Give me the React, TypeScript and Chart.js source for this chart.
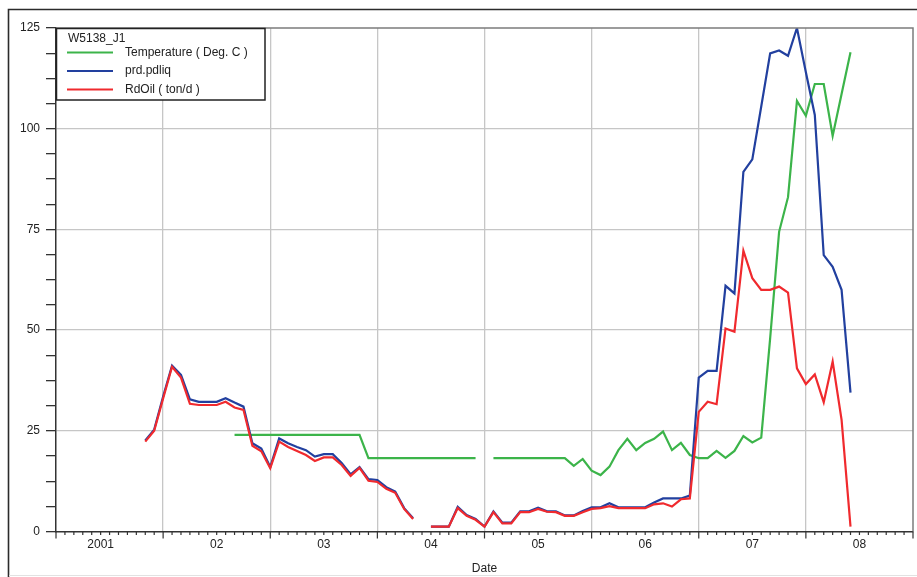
import React, { useEffect, useRef } from "react";
import { Chart, registerables } from "chart.js";

Chart.register(...registerables);

// Monthly dates of the plotted samples
const dates: string[] = [
  "2001-11", "2001-12",
  "2002-01", "2002-02", "2002-03", "2002-04", "2002-05", "2002-06", "2002-07", "2002-08", "2002-09", "2002-10", "2002-11", "2002-12",
  "2003-01", "2003-02", "2003-03", "2003-04", "2003-05", "2003-06", "2003-07", "2003-08", "2003-09", "2003-10", "2003-11", "2003-12",
  "2004-01", "2004-02", "2004-03", "2004-04", "2004-05", "2004-06", "2004-07", "2004-08", "2004-09", "2004-10", "2004-11", "2004-12",
  "2005-01", "2005-02", "2005-03", "2005-04", "2005-05", "2005-06", "2005-07", "2005-08", "2005-09", "2005-10", "2005-11", "2005-12",
  "2006-01", "2006-02", "2006-03", "2006-04", "2006-05", "2006-06", "2006-07", "2006-08", "2006-09", "2006-10", "2006-11", "2006-12",
  "2007-01", "2007-02", "2007-03", "2007-04", "2007-05", "2007-06", "2007-07", "2007-08", "2007-09", "2007-10", "2007-11", "2007-12",
  "2008-01", "2008-02", "2008-03", "2008-04", "2008-05", "2008-06",
];

const temperature: (number | null)[] = [
  null, null,
  null, null, null, null, null, null, null, null, 24.0, 24.0, 24.0, 24.0,
  24.0, 24.0, 24.0, 24.0, 24.0, 24.0, 24.0, 24.0, 24.0, 24.0, 24.0, 18.2,
  18.2, 18.2, 18.2, 18.2, 18.2, 18.2, 18.2, 18.2, 18.2, 18.2, 18.2, 18.2,
  null, 18.2, 18.2, 18.2, 18.2, 18.2, 18.2, 18.2, 18.2, 18.2, 16.3, 18.0,
  15.1, 14.0, 16.1, 20.2, 23.0, 20.2, 22.0, 23.0, 24.8, 20.2, 22.0, 19.0,
  18.2, 18.2, 20.0, 18.3, 20.0, 23.7, 22.1, 23.3, 48.0, 74.4, 83.0, 106.9,
  103.2, 111.1, 111.1, 98.2, 108.6, 119.0,
];

const prdPdliq: (number | null)[] = [
  22.6, 25.3,
  33.5, 41.2, 38.9, 32.8, 32.2, 32.2, 32.2, 33.1, 32.0, 31.0, 21.9, 20.6,
  16.0, 23.1, 21.9, 21.0, 20.2, 18.6, 19.2, 19.2, 17.0, 14.2, 16.0, 13.0,
  12.8, 11.0, 9.9, 5.8, 3.3, null, 1.2, 1.2, 1.2, 6.1, 4.1, 3.1,
  1.2, 5.0, 2.2, 2.2, 5.0, 5.0, 5.9, 5.0, 5.0, 4.0, 4.0, 5.1,
  6.0, 6.0, 7.0, 6.0, 6.0, 6.0, 6.0, 7.2, 8.2, 8.2, 8.2, 8.9,
  38.2, 39.9, 39.9, 61.0, 59.1, 89.3, 92.4, 105.5, 118.7, 119.4, 118.1, 125.0,
  114.0, 103.4, 68.6, 65.7, 60.0, 34.5,
];

const rdOil: (number | null)[] = [
  22.3, 25.0,
  33.0, 40.9, 38.2, 31.7, 31.4, 31.4, 31.4, 32.2, 30.8, 30.2, 21.3, 19.9,
  15.7, 22.3, 21.0, 20.0, 19.0, 17.5, 18.4, 18.4, 16.5, 13.8, 15.8, 12.6,
  12.3, 10.6, 9.6, 5.6, 3.1, null, 1.2, 1.2, 1.2, 5.8, 3.9, 2.9,
  1.2, 4.8, 2.0, 2.0, 4.8, 4.8, 5.6, 4.9, 4.8, 3.9, 3.9, 4.8,
  5.6, 5.8, 6.3, 5.8, 5.8, 5.8, 5.8, 6.75, 7.0, 6.2, 8.0, 8.2,
  29.7, 32.2, 31.6, 50.4, 49.6, 69.7, 62.9, 60.0, 60.0, 60.8, 59.3, 40.5,
  36.6, 39.0, 32.1, 42.2, 27.7, 1.2,
];

const yearLabels = ["2001", "02", "03", "04", "05", "06", "07", "08"];
const yTickLabels = [0, 25, 50, 75, 100, 125];

const legendTitle = "W5138_J1";
const seriesNames = ["Temperature ( Deg. C )", "prd.pdliq", "RdOil ( ton/d )"];
const seriesColors = ["#3cb44a", "#22409f", "#f02a2e"];

const FONT = "'Liberation Sans', Arial, sans-serif";
const TEXT = "#222222";
const GRID = "#c6c6c6";
const FIRST_YEAR = 2001;
const TOTAL_MONTHS = yearLabels.length * 12;

const toMonth = (d: string) => {
  const [y, m] = d.split("-").map(Number);
  return (y - FIRST_YEAR) * 12 + (m - 1);
};
const toPoints = (vals: (number | null)[]) =>
  dates.map((d, i) => ({ x: toMonth(d), y: vals[i] }));

const decorPlugin = {
  id: "decor",
  afterDraw(chart: any) {
    const { ctx, chartArea: a, scales } = chart;
    const xs = scales.x;
    ctx.save();
    // outer frame
    ctx.strokeStyle = "#2b2b2b";
    ctx.lineWidth = 1.6;
    ctx.beginPath();
    ctx.moveTo(8.5, 577);
    ctx.lineTo(8.5, 9.5);
    ctx.lineTo(917, 9.5);
    ctx.stroke();
    ctx.strokeStyle = "#e2e2e2";
    ctx.lineWidth = 1;
    ctx.beginPath();
    ctx.moveTo(9, 575.5);
    ctx.lineTo(917, 575.5);
    ctx.stroke();
    // plot top & right border
    ctx.strokeStyle = "#7c7c7c";
    ctx.lineWidth = 1.5;
    ctx.beginPath();
    ctx.moveTo(a.left, a.top);
    ctx.lineTo(a.right, a.top);
    ctx.lineTo(a.right, a.bottom);
    ctx.stroke();
    // x tick marks (monthly minor, yearly major)
    ctx.strokeStyle = "#333";
    ctx.lineWidth = 1.2;
    for (let m = 0; m <= TOTAL_MONTHS; m++) {
      const px = xs.getPixelForValue(m);
      const len = m % 12 === 0 ? 7 : 3.5;
      ctx.beginPath();
      ctx.moveTo(px, a.bottom);
      ctx.lineTo(px, a.bottom + len);
      ctx.stroke();
    }
    // legend
    const lx = a.left;
    const ly = a.top;
    ctx.fillStyle = "#ffffff";
    ctx.fillRect(lx, ly, 209, 72);
    ctx.strokeStyle = "#222";
    ctx.lineWidth = 1.5;
    ctx.strokeRect(lx + 0.5, ly + 0.5, 208.5, 71.5);
    ctx.font = `12px ${FONT}`;
    ctx.fillStyle = TEXT;
    ctx.textBaseline = "middle";
    ctx.textAlign = "left";
    ctx.fillText(legendTitle, lx + 12, ly + 11);
    seriesNames.forEach((name, i) => {
      const y = ly + 24.5 + i * 18.5;
      ctx.strokeStyle = seriesColors[i];
      ctx.lineWidth = 2.2;
      ctx.beginPath();
      ctx.moveTo(lx + 11, y);
      ctx.lineTo(lx + 57, y);
      ctx.stroke();
      ctx.fillStyle = TEXT;
      ctx.fillText(name, lx + 69, y);
    });
    ctx.restore();
  },
};

export default function App() {
  const ref = useRef<HTMLCanvasElement | null>(null);

  useEffect(() => {
    if (!ref.current) return;
    const chart = new Chart(ref.current, {
      type: "line",
      data: {
        datasets: [
          { label: seriesNames[0], data: toPoints(temperature), borderColor: seriesColors[0], order: 2 },
          { label: seriesNames[1], data: toPoints(prdPdliq), borderColor: seriesColors[1], order: 1 },
          { label: seriesNames[2], data: toPoints(rdOil), borderColor: seriesColors[2], order: 0 },
        ].map((d) => ({
          ...d,
          borderWidth: 2.2,
          pointRadius: 0,
          tension: 0,
          spanGaps: false,
          fill: false,
        })),
      },
      options: {
        animation: false,
        responsive: false,
        devicePixelRatio: 1,
        layout: { padding: { left: 0, top: 28, right: 4, bottom: 0 } },
        plugins: { legend: { display: false }, tooltip: { enabled: false }, title: { display: false } },
        scales: {
          x: {
            type: "linear",
            min: 0,
            max: TOTAL_MONTHS,
            afterBuildTicks: (scale: any) => {
              const t: { value: number }[] = [];
              for (let m = 0; m <= TOTAL_MONTHS; m += 12) t.push({ value: m });
              yearLabels.forEach((_, i) => t.push({ value: i * 12 + (i === 0 ? 5 : 6) }));
              t.sort((p, q) => p.value - q.value);
              scale.ticks = t;
            },
            afterFit: (scale: any) => {
              scale.height = 45.5;
              scale.paddingLeft = 0;
              scale.paddingRight = 0;
            },
            ticks: {
              autoSkip: false,
              maxRotation: 0,
              minRotation: 0,
              padding: 6,
              color: TEXT,
              font: { family: FONT, size: 12 },
              callback: (v: any) => (Number(v) % 12 === 0 ? "" : yearLabels[Math.floor(Number(v) / 12)]),
            },
            grid: {
              drawTicks: false,
              lineWidth: 1.3,
              color: (ctx: any) => {
                const v = ctx.tick ? ctx.tick.value : -1;
                return v % 12 === 0 && v > 0 && v < TOTAL_MONTHS ? GRID : "rgba(0,0,0,0)";
              },
            },
            border: { display: true, color: "#333", width: 1.5 },
            title: {
              display: true,
              text: "Date",
              color: TEXT,
              font: { family: FONT, size: 12 },
              padding: { top: 0, bottom: 1 },
            },
          },
          y: {
            type: "linear",
            min: 0,
            max: 125,
            afterBuildTicks: (scale: any) => {
              const t: { value: number }[] = [];
              const top = yTickLabels[yTickLabels.length - 1];
              for (let v = 0; v <= top + 1e-9; v += 6.25) t.push({ value: v });
              scale.ticks = t;
            },
            afterFit: (scale: any) => {
              scale.width = 56;
            },
            ticks: {
              autoSkip: false,
              padding: 6,
              color: TEXT,
              font: { family: FONT, size: 12 },
              callback: (v: any) => (yTickLabels.includes(Number(v)) ? String(v) : ""),
            },
            grid: {
              drawTicks: true,
              tickLength: 10,
              tickColor: "#333",
              tickWidth: 1.3,
              lineWidth: 1.3,
              color: (ctx: any) => {
                const v = ctx.tick ? ctx.tick.value : -1;
                return yTickLabels.includes(v) && v > 0 && v < 125 ? GRID : "rgba(0,0,0,0)";
              },
            },
            border: { display: true, color: "#333", width: 1.5 },
          },
        },
      },
      plugins: [decorPlugin],
    } as any);
    return () => chart.destroy();
  }, []);

  return (
    <canvas
      ref={ref}
      width={917}
      height={577}
      style={{ position: "fixed", left: 0, top: 0, width: 917, height: 577, display: "block" }}
    />
  );
}
